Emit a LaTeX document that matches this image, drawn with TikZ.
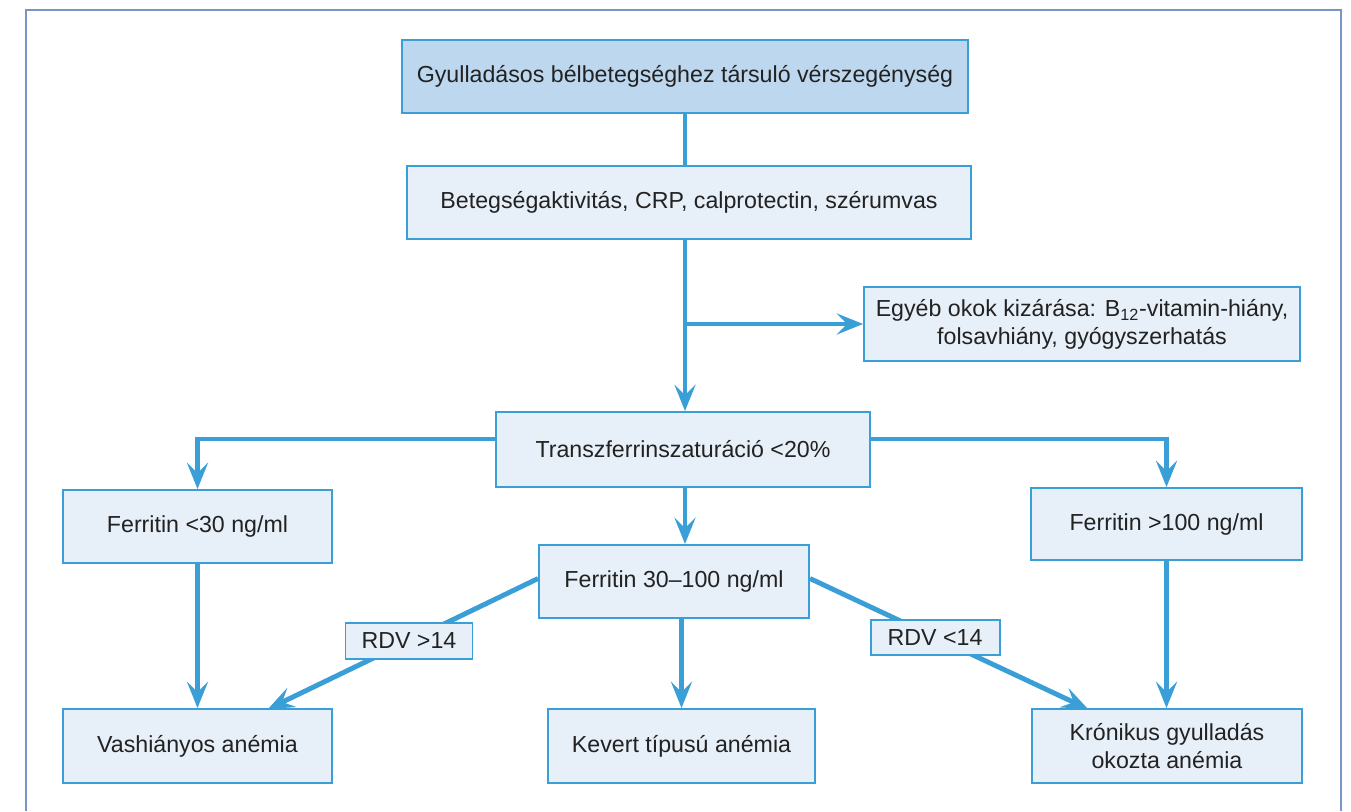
\documentclass[tikz,border=0pt]{standalone}
\usepackage{fontspec}
\setmainfont{Liberation Sans}
\usetikzlibrary{arrows.meta,calc}

\definecolor{flowblue}{HTML}{3A9FD6}
\definecolor{boxfill}{HTML}{E7EFF9}
\definecolor{headfill}{HTML}{BDD7EE}
\definecolor{framegray}{HTML}{7896C4}
\definecolor{textgray}{HTML}{222222}

\tikzset{
  box/.style={draw=flowblue, fill=boxfill, line width=1.1pt, text=textgray, align=center, inner sep=0pt, font=\fontsize{13.2}{16}\selectfont},
  link/.style={draw=flowblue, line width=2.8pt},
  flow/.style={link, -{Stealth[length=15pt,width=12pt,inset=6pt]}}
}

\begin{document}
\begin{tikzpicture}[x=0.02cm, y=-0.02cm]
	\useasboundingbox (0,0) rectangle (1351,811);
	%Frame
	\draw[framegray, line width=1.1pt] (26,811) -- (26,10) -- (1341,10) -- (1341,811);

	%Boxes
	\node[box, fill=headfill, minimum width=11.32cm, minimum height=1.46cm] (ibd) at (685,76.5) {Gyulladásos bélbetegséghez társuló vérszegénység};
	\node[box, minimum width=11.28cm, minimum height=1.46cm] (activity) at (689,202.5) {Betegségaktivitás, CRP, calprotectin, szérumvas};
	\node[box, minimum width=8.72cm, minimum height=1.48cm] (other) at (1082,324) {Egyéb okok kizárása: B\textsubscript{12}-vitamin-hiány,\\folsavhiány, gyógyszerhatás};
	\node[box, minimum width=7.48cm, minimum height=1.5cm] (tsat) at (683,449.5) {Transzferrinszaturáció <20\%};

	\node[box, minimum width=5.38cm, minimum height=1.46cm] (lowfer) at (197.5,526.5) {Ferritin <30 ng/ml};
	\node[box, minimum width=5.42cm, minimum height=1.44cm] (highfer) at (1166.5,524) {Ferritin >100 ng/ml};
	\node[box, minimum width=5.4cm, minimum height=1.46cm] (midfer) at (674,581.5) {Ferritin 30–100 ng/ml};

	\node[box, minimum width=5.38cm, minimum height=1.48cm] (irondef) at (197.5,746) {Vashiányos anémia};
	\node[box, minimum width=5.34cm, minimum height=1.48cm] (mixed) at (681.5,746) {Kevert típusú anémia};
	\node[box, minimum width=5.4cm, minimum height=1.48cm] (chronic) at (1167,746) {Krónikus gyulladás\\okozta anémia};

	%Arrow ends
	\coordinate (irontip) at (268,709);
	\coordinate (chrontip) at (1088,709);

	%Connectors
	\draw[link] (ibd.south) -- (ibd.south |- activity.north);
	\draw[flow] (ibd.south |- activity.south) -- (ibd.south |- tsat.north);
	\draw[flow] (ibd.south |- other.west) -- (other.west);

	\draw[flow] ([yshift=0.21cm]tsat.west) -| (lowfer.north);
	\draw[flow] ([yshift=0.21cm]tsat.east) -| (highfer.north);
	\draw[flow] (ibd.south |- tsat.south) -- (ibd.south |- midfer.north);

	\draw[flow] (lowfer) -- (irondef);
	\draw[flow] (highfer.south) -- (highfer.south |- chronic.north);
	\draw[flow] (mixed.north |- midfer.south) -- (mixed.north);

	\draw[flow] ([yshift=0.06cm]midfer.west) -- node[box, pos=0.478, minimum width=2.54cm, minimum height=0.72cm] (rdvhigh) {RDV >14} (irontip);
	\draw[flow] ([yshift=0.06cm]midfer.east) -- node[box, pos=0.45, minimum width=2.58cm, minimum height=0.7cm] (rdvlow) {RDV <14} (chrontip);
\end{tikzpicture}
\end{document}
